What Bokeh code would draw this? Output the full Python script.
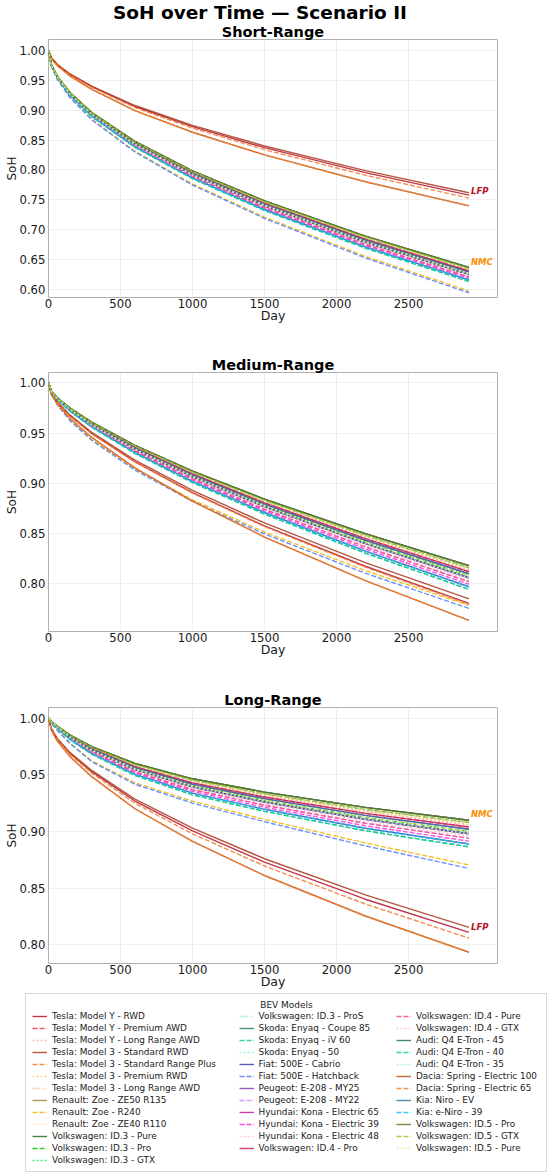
from bokeh.plotting import figure
from bokeh.models import Range1d, FixedTicker, PrintfTickFormatter, Label, Legend, LegendItem, Div
from bokeh.layouts import column
from bokeh.embed import file_html
from bokeh.resources import INLINE

# ---------------- data ----------------
DAYS = [0, 20, 60, 150, 300, 600, 1000, 1500, 2200, 2920]

MODELS = [
    "Tesla: Model Y - RWD", "Tesla: Model Y - Premium AWD", "Tesla: Model Y - Long Range AWD",
    "Tesla: Model 3 - Standard RWD", "Tesla: Model 3 - Standard Range Plus", "Tesla: Model 3 - Premium RWD",
    "Tesla: Model 3 - Long Range AWD", "Renault: Zoe - ZE50 R135", "Renault: Zoe - R240",
    "Renault: Zoe - ZE40 R110", "Volkswagen: ID.3 - Pure", "Volkswagen: ID.3 - Pro",
    "Volkswagen: ID.3 - GTX", "Volkswagen: ID.3 - ProS", "Skoda: Enyaq - Coupe 85",
    "Skoda: Enyaq - iV 60", "Skoda: Enyaq - 50", "Fiat: 500E - Cabrio", "Fiat: 500E - Hatchback",
    "Peugeot: E-208 - MY25", "Peugeot: E-208 - MY22", "Hyundai: Kona - Electric 65",
    "Hyundai: Kona - Electric 39", "Hyundai: Kona - Electric 48", "Volkswagen: ID.4 - Pro",
    "Volkswagen: ID.4 - Pure", "Volkswagen: ID.4 - GTX", "Audi: Q4 E-Tron - 45", "Audi: Q4 E-Tron - 40",
    "Audi: Q4 E-Tron - 35", "Dacia: Spring - Electric 100", "Dacia: Spring - Electric 65",
    "Kia: Niro - EV", "Kia: e-Niro - 39", "Volkswagen: ID.5 - Pro", "Volkswagen: ID.5 - GTX",
    "Volkswagen: ID.5 - Pure",
]

CHEMISTRY = ["LFP", "NMC", "NMC", "LFP", "LFP", "NMC", "NMC", "NMC", "NMC", "NMC",
             "NMC", "NMC", "NMC", "NMC", "NMC", "NMC", "NMC", "NMC", "NMC", "NMC",
             "NMC", "NMC", "NMC", "NMC", "NMC", "NMC", "NMC", "NMC", "NMC", "NMC",
             "LFP", "LFP", "NMC", "NMC", "NMC", "NMC", "NMC"]

LINE_STYLE = ["solid", "dashed", "dotted", "solid", "dashed", "dotted", "dashdot",
              "solid", "dashed", "dotted", "solid", "dashed", "dotted", "dashdot",
              "solid", "dashed", "dotted", "solid", "dashed", "solid", "dashed",
              "solid", "dashed", "dotted", "solid", "dashed", "dotted",
              "solid", "dashed", "dotted", "solid", "dashed", "solid", "dashed",
              "solid", "dashed", "dotted"]

COLORS = ["#b3132b", "#f53838", "#ffaaaa", "#a83a1c", "#f07a30", "#ffc27a", "#ffcfa8",
          "#9a8a3a", "#f2b400", "#ffe09a", "#1f6e1f", "#0fc00f", "#22ee66", "#a8f5c8",
          "#2a7f73", "#1ac9a3", "#88f5ea", "#4040b0", "#4d7fff", "#8a3cb0", "#d58aff",
          "#c4189e", "#ff2ee0", "#ffc0ec", "#c8225f", "#ff4480", "#ffbfcf",
          "#1f7462", "#10cf8e", "#a0f5d8", "#b9501a", "#f5842c", "#2a7aa0", "#14bff0",
          "#6a7420", "#a0bf1a", "#e2ee8a"]

# which read-off curve each model follows (same grouping in every scenario)
CURVE_OF = ["MY", "D", "C", "M3", "SR", "C", "B", "G", "M", "H", "G", "F", "B", "B",
            "A", "L", "G", "K", "N", "G", "I", "E", "J", "H", "D", "I", "B",
            "A", "L", "G", "DA", "DA", "E", "K", "A", "B", "F"]

SHORT_RANGE = {
    "A":  [1.0, 0.9764, 0.9572, 0.9292, 0.8962, 0.8479, 0.7985, 0.7484, 0.6893, 0.637],
    "B":  [1.0, 0.9763, 0.9570, 0.9288, 0.8956, 0.8471, 0.7974, 0.7470, 0.6876, 0.635],
    "C":  [1.0, 0.9761, 0.9567, 0.9284, 0.8950, 0.8462, 0.7963, 0.7456, 0.6859, 0.633],
    "D":  [1.0, 0.9760, 0.9565, 0.9280, 0.8945, 0.8454, 0.7952, 0.7443, 0.6841, 0.631],
    "E":  [1.0, 0.9759, 0.9562, 0.9277, 0.8939, 0.8445, 0.7941, 0.7429, 0.6824, 0.629],
    "F":  [1.0, 0.9758, 0.9560, 0.9273, 0.8933, 0.8437, 0.7930, 0.7415, 0.6807, 0.627],
    "G":  [1.0, 0.9756, 0.9558, 0.9269, 0.8927, 0.8429, 0.7919, 0.7401, 0.6790, 0.625],
    "H":  [1.0, 0.9755, 0.9555, 0.9265, 0.8922, 0.8420, 0.7908, 0.7387, 0.6773, 0.623],
    "I":  [1.0, 0.9754, 0.9553, 0.9261, 0.8916, 0.8412, 0.7897, 0.7373, 0.6756, 0.621],
    "J":  [1.0, 0.9752, 0.9550, 0.9256, 0.8909, 0.8401, 0.7883, 0.7356, 0.6735, 0.6185],
    "K":  [1.0, 0.9750, 0.9547, 0.9251, 0.8902, 0.8391, 0.7869, 0.7339, 0.6713, 0.616],
    "L":  [1.0, 0.9749, 0.9544, 0.9246, 0.8894, 0.8380, 0.7855, 0.7322, 0.6692, 0.6135],
    "M":  [1.0, 0.9738, 0.9525, 0.9215, 0.8849, 0.8314, 0.7766, 0.7211, 0.6555, 0.5975],
    "N":  [1.0, 0.9736, 0.9522, 0.9209, 0.8840, 0.8301, 0.7749, 0.7190, 0.6529, 0.5945],
    "M3": [1.0, 0.9881, 0.9769, 0.9607, 0.9405, 0.9079, 0.8748, 0.8401, 0.7989, 0.762],
    "MY": [1.0, 0.9879, 0.9765, 0.9601, 0.9395, 0.9063, 0.8727, 0.8374, 0.7955, 0.758],
    "SR": [1.0, 0.9877, 0.9760, 0.9592, 0.9383, 0.9044, 0.8701, 0.8340, 0.7913, 0.753],
    "DA": [1.0, 0.9870, 0.9748, 0.9571, 0.9350, 0.8994, 0.8632, 0.8253, 0.7803, 0.740],
}

MEDIUM_RANGE = {
    "A":  [1.0, 0.9918, 0.9854, 0.9749, 0.9609, 0.9378, 0.9121, 0.8842, 0.8499, 0.818],
    "B":  [1.0, 0.9917, 0.9852, 0.9746, 0.9605, 0.9371, 0.9111, 0.8829, 0.8482, 0.816],
    "C":  [1.0, 0.9916, 0.9851, 0.9743, 0.9600, 0.9364, 0.9101, 0.8817, 0.8466, 0.814],
    "D":  [1.0, 0.9915, 0.9849, 0.9741, 0.9596, 0.9357, 0.9092, 0.8804, 0.8449, 0.812],
    "E":  [1.0, 0.9914, 0.9848, 0.9738, 0.9592, 0.9350, 0.9082, 0.8791, 0.8433, 0.810],
    "F":  [1.0, 0.9914, 0.9846, 0.9735, 0.9587, 0.9343, 0.9072, 0.8779, 0.8416, 0.808],
    "G":  [1.0, 0.9913, 0.9844, 0.9732, 0.9583, 0.9337, 0.9063, 0.8766, 0.8400, 0.806],
    "H":  [1.0, 0.9912, 0.9843, 0.9729, 0.9579, 0.9330, 0.9053, 0.8753, 0.8383, 0.804],
    "I":  [1.0, 0.9911, 0.9841, 0.9727, 0.9574, 0.9323, 0.9044, 0.8741, 0.8367, 0.802],
    "J":  [1.0, 0.9910, 0.9839, 0.9723, 0.9569, 0.9314, 0.9032, 0.8725, 0.8346, 0.7995],
    "K":  [1.0, 0.9909, 0.9837, 0.9720, 0.9564, 0.9306, 0.9019, 0.8709, 0.8325, 0.797],
    "L":  [1.0, 0.9908, 0.9835, 0.9716, 0.9558, 0.9297, 0.9007, 0.8693, 0.8305, 0.7945],
    "M":  [1.0, 0.9889, 0.9785, 0.9628, 0.9435, 0.9143, 0.8835, 0.8515, 0.8131, 0.7785],
    "N":  [1.0, 0.9888, 0.9782, 0.9623, 0.9428, 0.9131, 0.8819, 0.8495, 0.8105, 0.7755],
    "M3": [1.0, 0.9893, 0.9811, 0.9678, 0.9506, 0.9230, 0.8929, 0.8605, 0.8211, 0.785],
    "MY": [1.0, 0.9890, 0.9807, 0.9671, 0.9495, 0.9214, 0.8907, 0.8575, 0.8174, 0.7805],
    "SR": [1.0, 0.9890, 0.9806, 0.9669, 0.9493, 0.9211, 0.8902, 0.8569, 0.8165, 0.7795],
    "DA": [1.0, 0.9882, 0.9792, 0.9645, 0.9456, 0.9153, 0.8822, 0.8465, 0.8032, 0.7635],
}

LONG_RANGE = {
    "A":  [1.0, 0.9971, 0.9931, 0.9850, 0.9748, 0.9600, 0.9465, 0.9348, 0.9213, 0.910],
    "B":  [1.0, 0.9970, 0.9929, 0.9847, 0.9742, 0.9591, 0.9453, 0.9333, 0.9195, 0.908],
    "C":  [1.0, 0.9970, 0.9928, 0.9843, 0.9737, 0.9582, 0.9441, 0.9319, 0.9178, 0.906],
    "D":  [1.0, 0.9969, 0.9926, 0.9840, 0.9731, 0.9573, 0.9429, 0.9304, 0.9160, 0.904],
    "E":  [1.0, 0.9969, 0.9925, 0.9837, 0.9726, 0.9564, 0.9417, 0.9290, 0.9143, 0.902],
    "F":  [1.0, 0.9968, 0.9923, 0.9833, 0.9720, 0.9555, 0.9405, 0.9275, 0.9125, 0.900],
    "G":  [1.0, 0.9967, 0.9921, 0.9830, 0.9714, 0.9546, 0.9393, 0.9261, 0.9108, 0.898],
    "H":  [1.0, 0.9967, 0.9920, 0.9826, 0.9709, 0.9537, 0.9381, 0.9246, 0.9090, 0.896],
    "I":  [1.0, 0.9966, 0.9918, 0.9823, 0.9703, 0.9528, 0.9369, 0.9232, 0.9073, 0.894],
    "J":  [1.0, 0.9965, 0.9916, 0.9819, 0.9696, 0.9517, 0.9354, 0.9214, 0.9051, 0.8915],
    "K":  [1.0, 0.9964, 0.9914, 0.9815, 0.9689, 0.9506, 0.9339, 0.9196, 0.9029, 0.889],
    "L":  [1.0, 0.9964, 0.9912, 0.9810, 0.9682, 0.9495, 0.9324, 0.9178, 0.9007, 0.8865],
    "M":  [1.0, 0.9955, 0.9896, 0.9780, 0.9624, 0.9430, 0.9268, 0.9106, 0.8899, 0.8705],
    "N":  [1.0, 0.9954, 0.9894, 0.9775, 0.9616, 0.9417, 0.9251, 0.9086, 0.8874, 0.8675],
    "M3": [1.0, 0.9908, 0.9821, 0.9696, 0.9539, 0.9286, 0.9030, 0.8760, 0.8441, 0.8155],
    "MY": [1.0, 0.9906, 0.9817, 0.9688, 0.9528, 0.9269, 0.9006, 0.8730, 0.8403, 0.811],
    "SR": [1.0, 0.9903, 0.9812, 0.9680, 0.9515, 0.9249, 0.8980, 0.8696, 0.8361, 0.806],
    "DA": [1.0, 0.9897, 0.9800, 0.9659, 0.9484, 0.9201, 0.8914, 0.8612, 0.8255, 0.7935],
}

X_TICKS = [0, 500, 1000, 1500, 2000, 2500]
Y_TICKS_SHORT = [0.60, 0.65, 0.70, 0.75, 0.80, 0.85, 0.90, 0.95, 1.00]
Y_TICKS_MEDIUM = [0.80, 0.85, 0.90, 0.95, 1.00]
Y_TICKS_LONG = [0.80, 0.85, 0.90, 0.95, 1.00]

# ---------------- styling ----------------
FONT = "DejaVu Sans"
DASH = {"solid": "solid", "dashed": "5 2", "dotted": "2 2", "dashdot": "8 2 2 2"}
LABEL_COLOR = {"LFP": "#b5121b", "NMC": "#ff8c00"}
X_MAX = 3118
FIG_W = 550


def make_panel(title, data, y_lo, y_hi, y_ticks, top, frame_h, bottom, chem_offsets):
    p = figure(width=FIG_W, height=top + frame_h + bottom,
               min_border_left=48, min_border_right=53,
               min_border_top=top, min_border_bottom=bottom,
               x_range=Range1d(0, X_MAX), y_range=Range1d(y_lo, y_hi),
               output_backend="svg", toolbar_location=None, title=title)
    p.title.text_font = FONT
    p.title.text_font_size = "14.5px"
    p.title.text_font_style = "bold"
    p.title.text_color = "#000000"
    p.title.align = "center"
    p.title.standoff = 0

    for i in range(len(MODELS)):
        p.line(DAYS, data[CURVE_OF[i]], line_color=COLORS[i],
               line_dash=DASH[LINE_STYLE[i]], line_width=1.4, line_alpha=0.85)

    for chem, dy in chem_offsets.items():
        ends = [data[CURVE_OF[i]][-1] for i in range(len(MODELS)) if CHEMISTRY[i] == chem]
        p.add_layout(Label(x=DAYS[-1], y=max(ends), x_offset=2, y_offset=dy, text=chem,
                           text_font=FONT, text_font_size="8.5px",
                           text_font_style="bold italic", text_color=LABEL_COLOR[chem],
                           text_align="left", text_baseline="middle"))

    p.xaxis.ticker = FixedTicker(ticks=X_TICKS)
    p.yaxis.ticker = FixedTicker(ticks=y_ticks)
    p.yaxis.formatter = PrintfTickFormatter(format="%.2f")
    p.grid.grid_line_color = "#ebebeb"
    p.grid.grid_line_width = 0.8
    p.outline_line_color = "#b0b0b0"
    p.outline_line_width = 1
    p.axis.axis_line_color = None
    p.axis.major_tick_line_color = None
    p.axis.minor_tick_line_color = None
    p.axis.major_tick_out = 0
    p.axis.major_tick_in = 0
    p.axis.major_label_text_font = FONT
    p.axis.major_label_text_font_size = "11.7px"
    p.axis.major_label_text_color = "#1a1a1a"
    p.xaxis.axis_label = "Day"
    p.yaxis.axis_label = "SoH"
    p.axis.axis_label_text_font = FONT
    p.axis.axis_label_text_font_style = "normal"
    p.axis.axis_label_text_color = "#1a1a1a"
    p.xaxis.axis_label_text_font_size = "12.5px"
    p.yaxis.axis_label_text_font_size = "12px"
    p.xaxis.major_label_standoff = 1
    p.xaxis.axis_label_standoff = -3
    p.yaxis.major_label_standoff = 3
    p.yaxis.axis_label_standoff = -3
    return p


title_div = Div(text='<div style="width:520px;font-family:\'DejaVu Sans\';font-size:18.5px;'
                     'font-weight:bold;color:#000;text-align:center;line-height:20px;'
                     'white-space:nowrap;position:relative;top:3px;">'
                     'SoH over Time \u2014 Scenario II</div>',
                width=520, height=20, margin=0)

p1 = make_panel("Short-Range", SHORT_RANGE, 0.5866, 1.0184, Y_TICKS_SHORT, 19, 258, 43,
                {"LFP": 2, "NMC": 5})
p2 = make_panel("Medium-Range", MEDIUM_RANGE, 0.7525, 1.0102, Y_TICKS_MEDIUM, 32, 259, 44, {})
p3 = make_panel("Long-Range", LONG_RANGE, 0.7836, 1.0094, Y_TICKS_LONG, 32, 257, 27,
                {"NMC": 6, "LFP": 0})

# ---------------- legend panel ----------------
LEG_W, LEG_H = 521, 178
leg = figure(width=FIG_W, height=2 + LEG_H + 1, min_border_left=25, min_border_right=4,
             min_border_top=2, min_border_bottom=1,
             x_range=Range1d(0, LEG_W), y_range=Range1d(0, LEG_H),
             x_axis_type=None, y_axis_type=None,
             output_backend="svg", toolbar_location=None)
leg.outline_line_color = "#d8d8d8"
leg.outline_line_width = 1
leg.grid.visible = False

# single-point proxies: nothing is drawn in the panel, only the legend samples
handles = [leg.line(x=[0], y=[0], line_color=COLORS[i], line_dash=DASH[LINE_STYLE[i]],
                    line_width=1.4, line_alpha=0.85) for i in range(len(MODELS))]

leg.add_layout(Label(x=261, y=167, text="BEV Models", text_font=FONT, text_font_size="9px",
                     text_color="#1a1a1a", text_align="center", text_baseline="middle"))

for start, stop, x0, y0 in [(0, 13, 7, 5.3), (13, 25, 213.6, 17.3), (25, 37, 371, 17.3)]:
    lg = Legend(items=[LegendItem(label=MODELS[i], renderers=[handles[i]]) for i in range(start, stop)],
                location=(x0, y0), orientation="vertical",
                glyph_width=15, glyph_height=12, label_height=12, label_standoff=5,
                spacing=0, padding=0, margin=0,
                label_text_font=FONT, label_text_font_size="8.9px", label_text_color="#222222",
                border_line_color=None, background_fill_alpha=0)
    leg.add_layout(lg)

charts = column(title_div, p1, p2, p3)
legend_block = column(leg)
open("out.html", "w").write(file_html([charts, legend_block], INLINE))
